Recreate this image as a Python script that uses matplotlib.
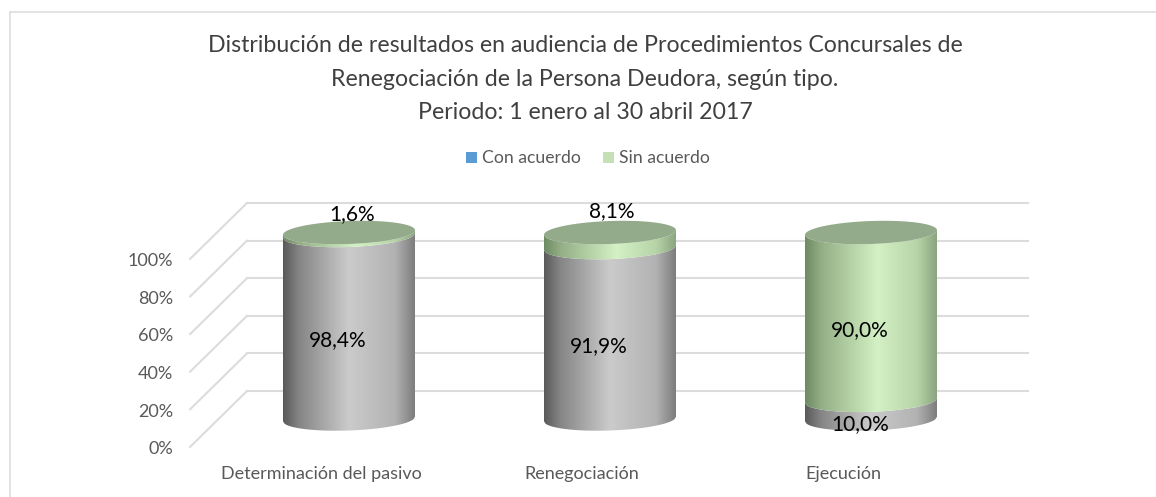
import numpy as np
import matplotlib
matplotlib.use('Agg')
import matplotlib.pyplot as plt
from matplotlib.colors import LinearSegmentedColormap
from matplotlib.patches import PathPatch, Rectangle
from matplotlib.path import Path

# DATA
categories = ['Determinación del pasivo', 'Renegociación', 'Ejecución']
conAcuerdo = [98.4, 91.9, 10.0]
sinAcuerdo = [1.6, 8.1, 90.0]
conLabels = ['98,4%', '91,9%', '10,0%']
sinLabels = ['1,6%', '8,1%', '90,0%']
yTicks = [0, 20, 40, 60, 80, 100]
seriesNames = ['Con acuerdo', 'Sin acuerdo']
titleLines = ['Distribución de resultados en audiencia de Procedimientos Concursales de',
              'Renegociación de la Persona Deudora, según tipo.',
              'Periodo: 1 enero al 30 abril 2017']

plt.rcParams['font.family'] = ['Lato', 'DejaVu Sans']

# x is in pixels, y in percent (1.88 px per 1 %)
W, H = 1156, 497
pxPct = 1.88
y0Pix = 447
def pix(p):
    return (y0Pix - p) / pxPct

fig = plt.figure(figsize=(W / 100, H / 100), dpi=100)
ax = fig.add_axes([0, 0, 1, 1])
ax.set_xlim(0, W)
ax.set_ylim(pix(H), pix(0))
ax.axis('off')

# border of the picture, only left and top are visible
ax.plot([9.5, 9.5], [pix(H), pix(11.5)], color='#dedede', lw=1.2)
ax.plot([9.5, W], [pix(11.5), pix(11.5)], color='#dedede', lw=1.2)

# walls
gridColor = '#dcdcdc'
wallDx = 57
wallDy = 56 / pxPct
for t in yTicks:
    ax.plot([190, 190 + wallDx], [t, t + wallDy], color=gridColor, lw=1.5, solid_capstyle='round')
    ax.plot([190 + wallDx, 1028], [t + wallDy, t + wallDy], color=gridColor, lw=1.5)
    ax.text(173, t - 1.2, '%d%%' % t, ha='right', va='center', fontsize=13, color='#595959')

greyMap = LinearSegmentedColormap.from_list('grey', [(0, '#5a5a5a'), (0.12, '#858585'), (0.5, '#cbcbcb'),
                                                     (0.85, '#b2b2b2'), (1, '#7d7d7d')])
greenMap = LinearSegmentedColormap.from_list('green', [(0, '#6d8a62'), (0.12, '#93ae85'), (0.55, '#d3f1c4'),
                                                       (0.85, '#b7d4a8'), (1, '#8ba580')])
topColor = '#94ab8b'

cylWidth = 132
cylA = cylWidth / 2
cylB = 11.5 / pxPct
cylBase = (447 - 419) / pxPct
cylScale = 186.5 / 188
tilt = 2.3 / pxPct
centres = [349 + 261 * i for i in range(len(categories))]

def ellipseY(u, yc):
    # u in [-1, 1] across the cylinder, lower front arc, slightly tilted
    return yc - cylB * np.sqrt(1 - u**2) + tilt * u

def side(cx, y1, y2, cmap):
    u = np.linspace(-1, 1, 80)
    xs = cx + cylA * u
    verts = np.r_[np.c_[xs, ellipseY(u, y1)], np.c_[xs[::-1], ellipseY(u[::-1], y2)]]
    verts = np.r_[verts, verts[:1]]
    codes = [Path.MOVETO] + [Path.LINETO] * (len(verts) - 2) + [Path.CLOSEPOLY]
    clip = PathPatch(Path(verts, codes), fc='none', ec='none', transform=ax.transData)
    ax.add_patch(clip)
    grad = np.linspace(0, 1, 256).reshape(1, -1)
    im = ax.imshow(grad, cmap=cmap, extent=[cx - cylA, cx + cylA, y1 - cylB - tilt, y2 + tilt], aspect='auto', zorder=3)
    im.set_clip_path(clip)

conY = [339, 345, 423]
conX = [-11, -11, -11]
sinY = [213, 210, 329]
sinX = [3, 2, -11]
for i, cx in enumerate(centres):
    yA = cylBase
    yB = yA + conAcuerdo[i] * cylScale
    yC = yB + sinAcuerdo[i] * cylScale
    side(cx, yA, yB, greyMap)
    side(cx, yB, yC, greenMap)
    u = np.linspace(0, 2 * np.pi, 120)
    ax.fill(cx + cylA * np.cos(u), yC + cylB * np.sin(u) + tilt * np.cos(u), color=topColor, lw=0, zorder=4)
    ax.text(cx + conX[i], pix(conY[i] + 1), conLabels[i], ha='center', va='center', fontsize=15, color='black', zorder=5)
    ax.text(cx + sinX[i], pix(sinY[i] + 1), sinLabels[i], ha='center', va='center', fontsize=15, color='black', zorder=5)
ax.set_xlim(0, W)
ax.set_ylim(pix(H), pix(0))

# category labels
catX = [321, 582, 843]
for x, c in zip(catX, categories):
    ax.text(x, pix(474), c, ha='center', va='center', fontsize=13, color='#595959')

# legend
for x, col, name in zip([466, 603], ['#5b9bd5', '#c5e0b4'], seriesNames):
    ax.add_patch(Rectangle((x, pix(163)), 11, 11 / pxPct, fc=col, ec='none'))
    ax.text(x + 16, pix(158), name, ha='left', va='center', fontsize=12.7, color='#595959')

# title, one text per line to get the wide line spacing
for yPix, line in zip([46, 79, 112], titleLines):
    ax.text(585, pix(yPix), line, ha='center', va='center', fontsize=16.7, color='#404040')

fig.savefig('out.png', dpi=100)
